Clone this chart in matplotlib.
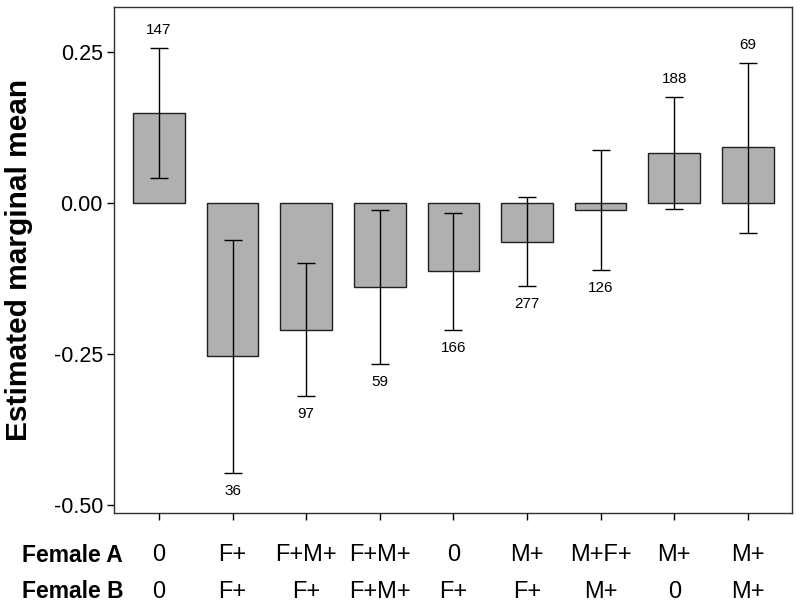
import numpy as np
import matplotlib
matplotlib.use('Agg')
import matplotlib.pyplot as plt

plt.rcParams['font.family'] = ['Liberation Sans', 'DejaVu Sans']

# データ
femaleA = ['0', 'F+', 'F+M+', 'F+M+', '0', 'M+', 'M+F+', 'M+', 'M+']
femaleB = ['0', 'F+', 'F+', 'F+M+', 'F+', 'F+', 'M+', '0', 'M+']
means = [0.149, -0.254, -0.210, -0.139, -0.113, -0.064, -0.012, 0.083, 0.092]
ciLow = [0.041, -0.447, -0.320, -0.267, -0.210, -0.138, -0.111, -0.010, -0.049]
ciHigh = [0.257, -0.062, -0.100, -0.011, -0.016, 0.010, 0.087, 0.175, 0.231]
counts = [147, 36, 97, 59, 166, 277, 126, 188, 69]

x = np.arange(len(means))
means = np.array(means)
yerr = np.array([means - np.array(ciLow), np.array(ciHigh) - means])

fig = plt.figure(figsize=(8, 6.07), dpi=100)
ax = fig.add_axes([0.1425, 0.1549, 0.8475, 0.8336])

ax.bar(x, means, width=0.7, color='#b0b0b0', edgecolor='#202020', linewidth=1.0, zorder=2)
ax.errorbar(x, means, yerr=yerr, fmt='none', ecolor='black', elinewidth=1.0,
            capsize=6.5, capthick=1.0, zorder=3)

# 件数ラベル（エラーバーの外側）
for i in range(len(means)):
    if means[i] >= 0:
        ax.annotate(str(counts[i]), (x[i], ciHigh[i]), xytext=(0, 13),
                    textcoords='offset points', ha='center', va='center', fontsize=11)
    else:
        ax.annotate(str(counts[i]), (x[i], ciLow[i]), xytext=(0, -13),
                    textcoords='offset points', ha='center', va='center', fontsize=11)

ax.set_xlim(-0.61, 8.6)
ax.set_ylim(-0.5132, 0.3245)
ax.set_yticks([-0.5, -0.25, 0.0, 0.25])
ax.set_yticklabels(['-0.50', '-0.25', '0.00', '0.25'], fontsize=15.5)
ax.set_xticks(x)
ax.set_xticklabels([])
ax.tick_params(direction='out', length=5, width=1.0, colors='black', pad=3)
for sp in ax.spines.values():
    sp.set_color('#303030')
    sp.set_linewidth(1.0)

# 2段のカテゴリラベル
trans = ax.get_xaxis_transform()
for i in range(len(x)):
    ax.text(x[i], -0.083, femaleA[i], transform=trans, ha='center', va='center', fontsize=17)
    ax.text(x[i], -0.156, femaleB[i], transform=trans, ha='center', va='center', fontsize=17)
fig.text(22 / 800, 1 - 555 / 607, 'Female A', ha='left', va='center', fontsize=16.5, fontweight='bold')
fig.text(22 / 800, 1 - 592 / 607, 'Female B', ha='left', va='center', fontsize=16.5, fontweight='bold')

fig.text(19 / 800, 1 - 260 / 607, 'Estimated marginal mean', rotation=90,
         ha='center', va='center', fontsize=21.5, fontweight='bold')

plt.savefig('out.png', dpi=100)
